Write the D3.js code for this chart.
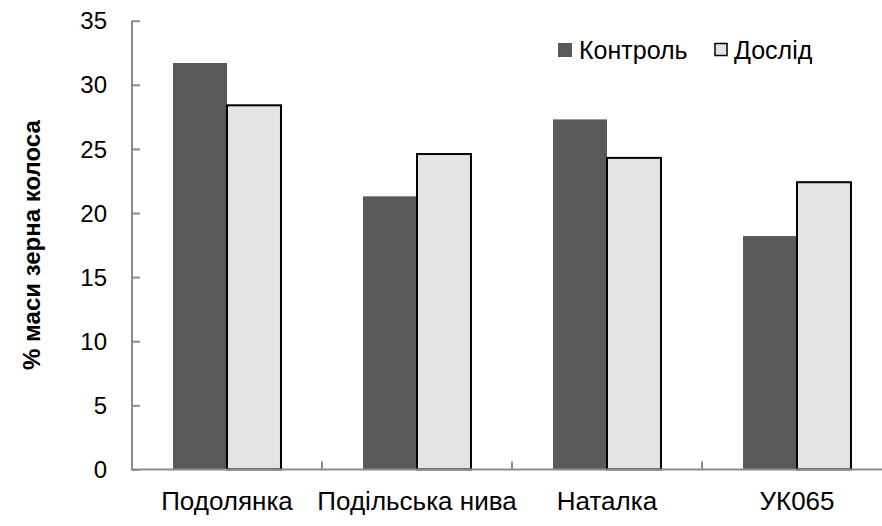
<!DOCTYPE html>
<html>
<head>
<meta charset="utf-8">
<script src="https://cdn.jsdelivr.net/npm/d3@7"></script>
<style>
  html, body { margin: 0; padding: 0; background: #fff; }
  svg { display: block; font-family: "Liberation Sans", Arial, sans-serif; }
</style>
</head>
<body>
<svg id="chart" width="882" height="526"></svg>
<script>
// Varieties along the x axis
const categories = ["Подолянка", "Подільська нива", "Наталка", "УК065"];
// Series names
const seriesNames = ["Контроль", "Дослід"];
// Share of grain in ear mass, %
const control = [31.7, 21.3, 27.3, 18.2];
const experiment = [28.4, 24.6, 24.3, 22.4];
// Y tick values
const yTicks = [0, 5, 10, 15, 20, 25, 30, 35];
const yTitle = "% маси зерна колоса";

const svg = d3.select("#chart");
const plotLeft = 132, plotTop = 20.7, plotBottom = 469.4;
const bandW = 190;
const plotRight = plotLeft + bandW * categories.length;

const x = d3.scaleBand().domain(categories).range([plotLeft, plotRight]).paddingInner(0).paddingOuter(0);
const y = d3.scaleLinear().domain([0, 35]).range([plotBottom, plotTop]);
// inner scale: two touching bars with a gap on each side
const xs = d3.scaleBand().domain(seriesNames).range([0, bandW]).paddingInner(0).paddingOuter(0.76);

const colors = { "Контроль": "#595959", "Дослід": "#e4e4e4" };
const strokes = { "Контроль": "none", "Дослід": "#000" };

const rows = categories.map((c, i) => ({ cat: c, values: [
  { key: "Контроль", v: control[i] },
  { key: "Дослід", v: experiment[i] }
]}));

// Bars
const g = svg.append("g");
rows.forEach(r => {
  r.values.forEach(d => {
    g.append("rect")
      .attr("x", x(r.cat) + xs(d.key))
      .attr("y", y(d.v))
      .attr("width", xs.bandwidth())
      .attr("height", y(0) - y(d.v))
      .attr("fill", colors[d.key])
      .attr("stroke", strokes[d.key])
      .attr("stroke-width", 2);
  });
});

// Y axis (ticks point into the plot)
const yAxis = svg.append("g").attr("transform", `translate(${plotLeft},0)`)
  .call(d3.axisRight(y).tickValues(yTicks).tickSize(8).tickFormat(""));
yAxis.select(".domain").attr("stroke", "#8c8c8c").attr("stroke-width", 2).attr("d", `M0,${plotTop}V${plotBottom}`);
yAxis.selectAll(".tick line").attr("stroke", "#8c8c8c").attr("stroke-width", 2);

svg.append("g").selectAll("text").data(yTicks).join("text")
  .attr("x", 107)
  .attr("y", d => y(d))
  .attr("dy", "0.36em")
  .attr("text-anchor", "end")
  .attr("font-size", 24)
  .attr("fill", "#000")
  .text(d => d);

// X axis with category separators
const xAxis = svg.append("g").attr("transform", `translate(0,${plotBottom})`);
xAxis.append("line").attr("x1", plotLeft - 1).attr("x2", plotRight).attr("y1", 0).attr("y2", 0)
  .attr("stroke", "#8c8c8c").attr("stroke-width", 2);
xAxis.selectAll("line.sep").data(categories.slice(1)).join("line")
  .attr("class", "sep")
  .attr("x1", d => x(d)).attr("x2", d => x(d))
  .attr("y1", 0).attr("y2", -8)
  .attr("stroke", "#8c8c8c").attr("stroke-width", 2);

svg.append("g").selectAll("text").data(categories).join("text")
  .attr("x", d => x(d) + x.bandwidth() / 2)
  .attr("y", 510)
  .attr("text-anchor", "middle")
  .attr("font-size", 26)
  .attr("fill", "#000")
  .text(d => d);

// Y axis title
svg.append("text")
  .attr("transform", `translate(40,${(plotTop + plotBottom) / 2}) rotate(-90)`)
  .attr("text-anchor", "middle")
  .attr("font-size", 24)
  .attr("font-weight", "bold")
  .attr("fill", "#000")
  .text(yTitle);

// Legend
const legend = [
  { key: "Контроль", sx: 558, tx: 579 },
  { key: "Дослід", sx: 715, tx: 734 }
];
const lg = svg.append("g");
legend.forEach(l => {
  const boxed = l.key === "Дослід";
  lg.append("rect")
    .attr("x", l.sx).attr("y", boxed ? 43.5 : 43)
    .attr("width", boxed ? 12 : 14)
    .attr("height", boxed ? 12 : 14)
    .attr("fill", colors[l.key])
    .attr("stroke", boxed ? "#000" : "none")
    .attr("stroke-width", 1.5);
  lg.append("text")
    .attr("x", l.tx).attr("y", 59)
    .attr("font-size", 25)
    .attr("fill", "#000")
    .text(l.key);
});
</script>
</body>
</html>
